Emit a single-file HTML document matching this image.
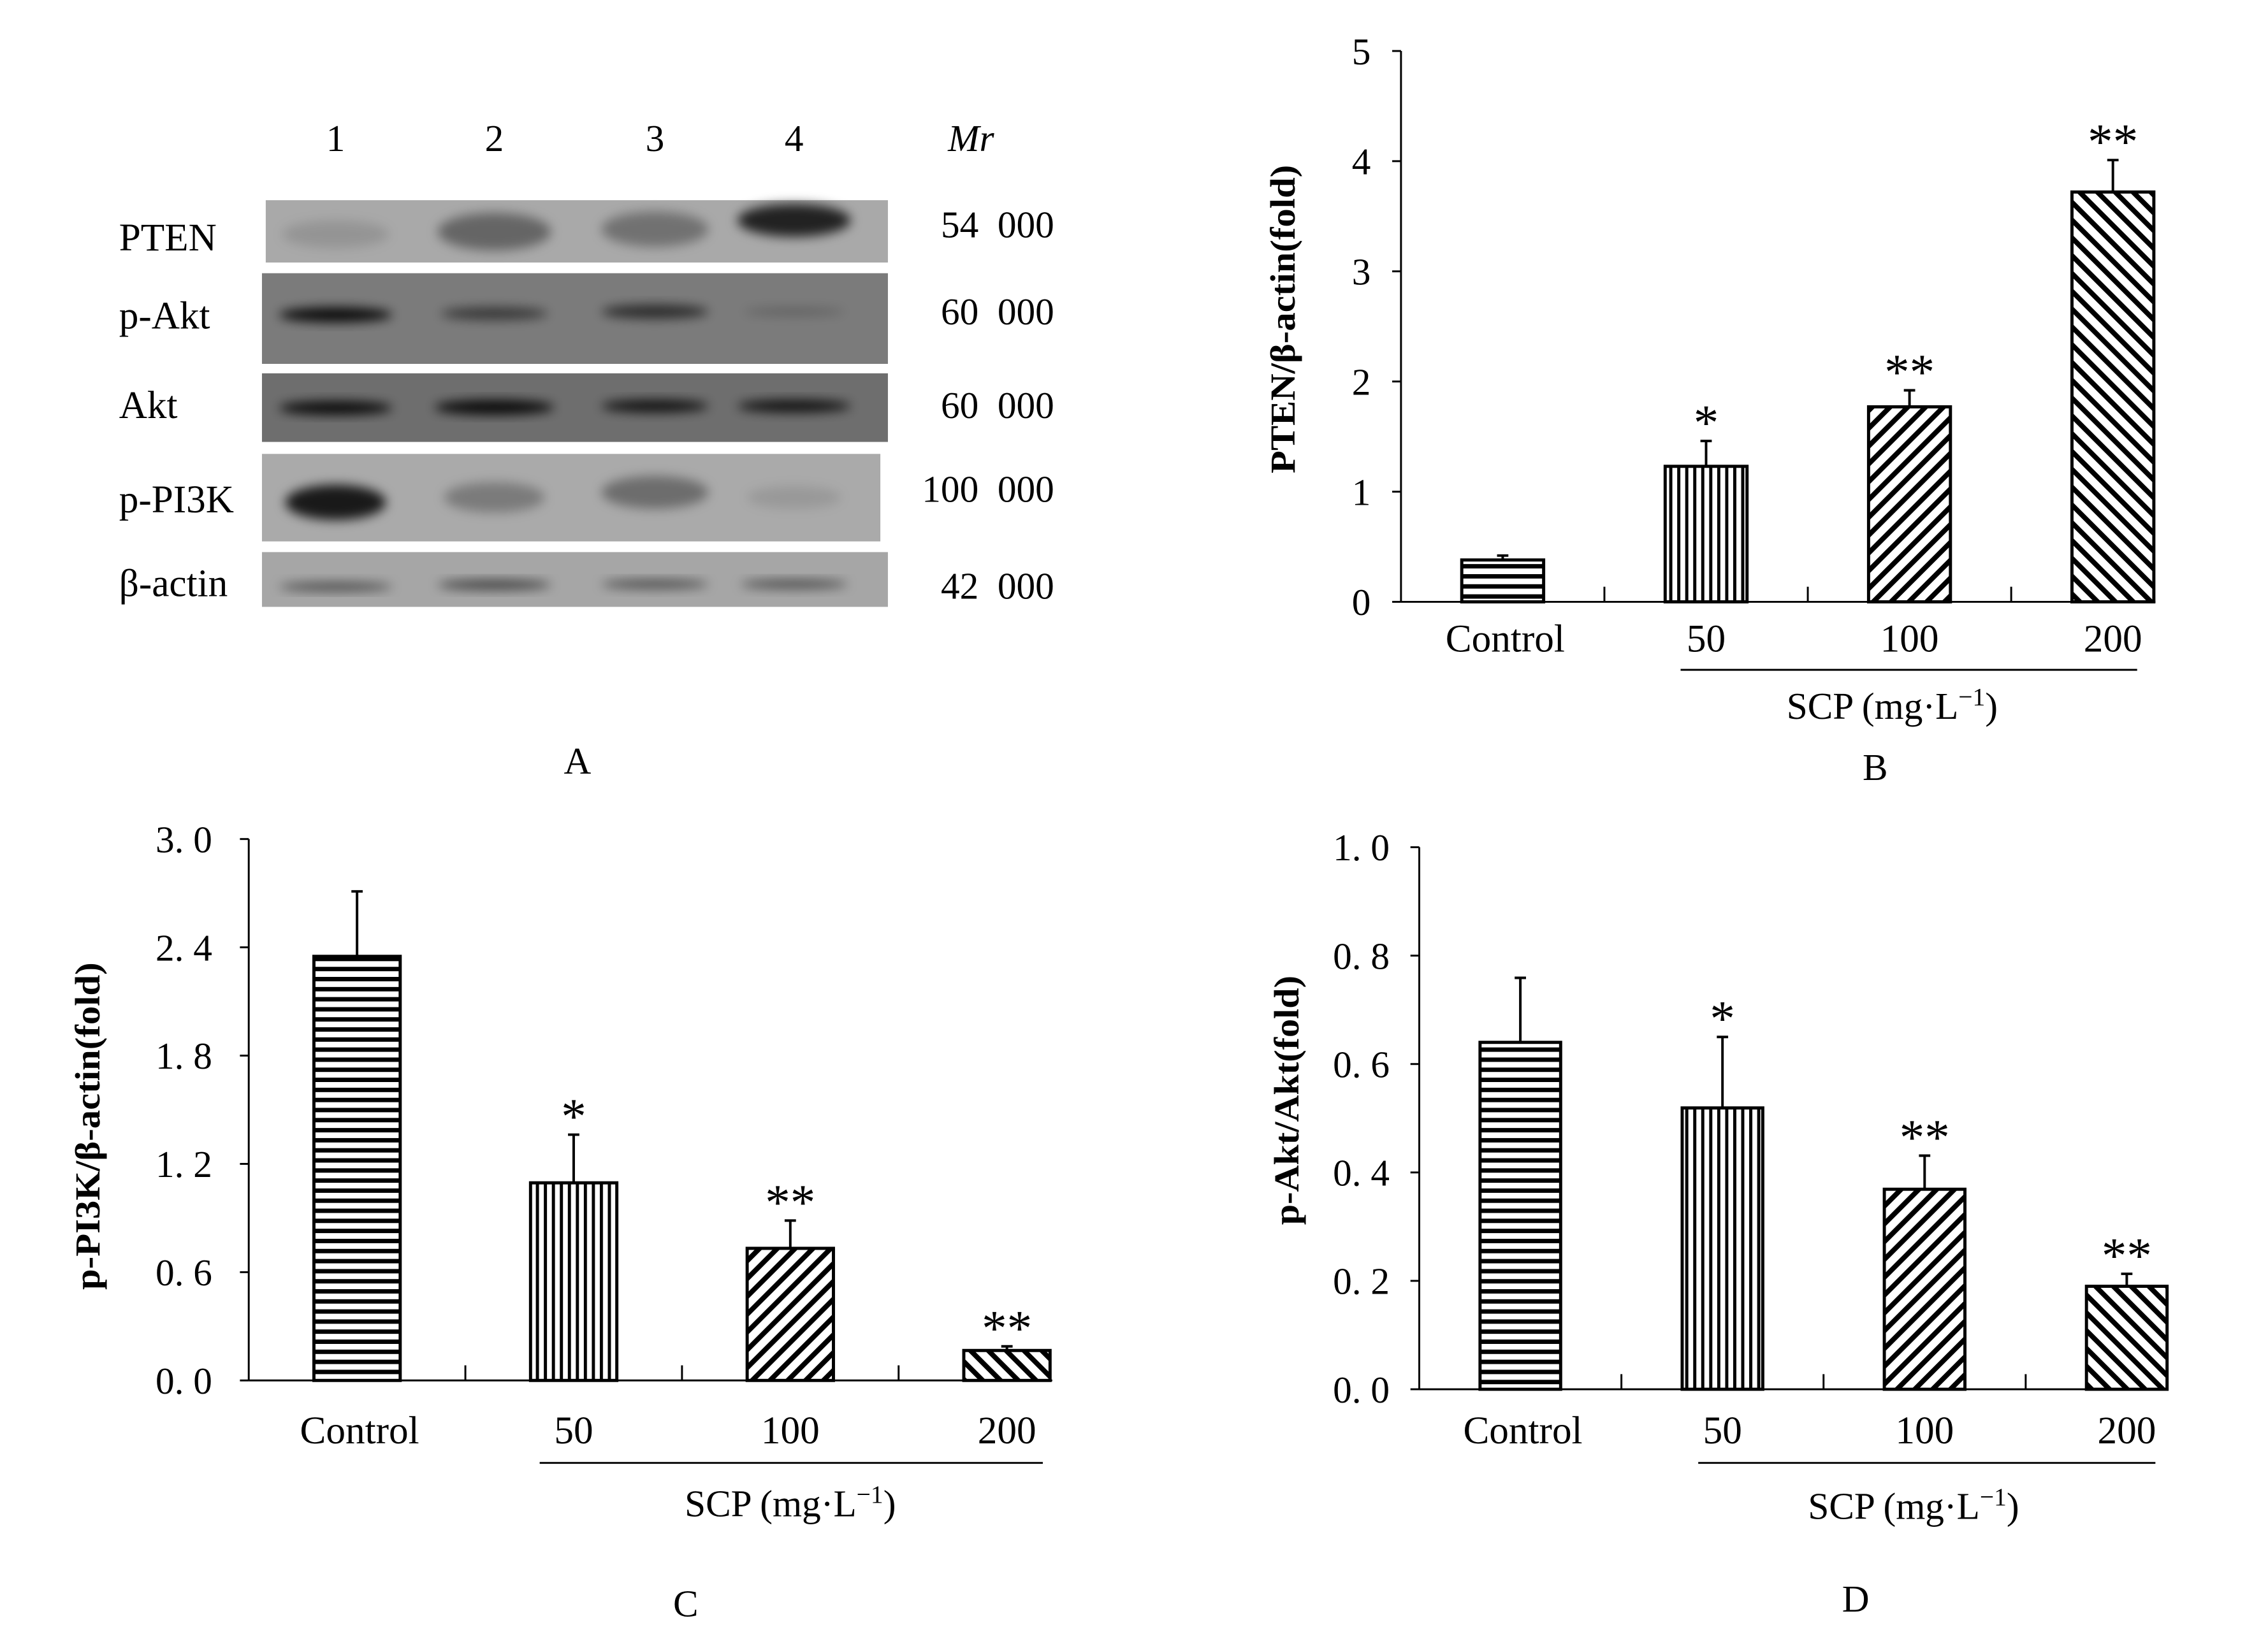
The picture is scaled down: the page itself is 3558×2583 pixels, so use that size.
<!DOCTYPE html>
<html><head><meta charset="utf-8"><style>
html,body{margin:0;padding:0;background:#fff;}
svg{display:block;}
text{font-family:"Liberation Serif","Noto Serif CJK SC",serif;fill:#000;}
</style></head><body>
<svg id="fig" width="3558" height="2583" viewBox="0 0 3558 2583" xmlns="http://www.w3.org/2000/svg">
<defs>
<pattern id="pH" patternUnits="userSpaceOnUse" width="16" height="16"><rect width="16" height="16" fill="#fff"/><rect y="0" width="16" height="7" fill="#000"/></pattern>
<pattern id="pV" patternUnits="userSpaceOnUse" width="12.7" height="12.7"><rect width="12.7" height="12.7" fill="#fff"/><rect x="0" width="5" height="12.7" fill="#000"/></pattern>
<pattern id="pF" patternUnits="userSpaceOnUse" width="20" height="20" patternTransform="rotate(45)"><rect width="20" height="20" fill="#fff"/><rect x="0" width="8" height="20" fill="#000"/></pattern>
<pattern id="pB" patternUnits="userSpaceOnUse" width="20" height="20" patternTransform="rotate(-45)"><rect width="20" height="20" fill="#fff"/><rect x="0" width="8" height="20" fill="#000"/></pattern>
<filter id="blur" x="-20%" y="-50%" width="140%" height="200%"><feGaussianBlur stdDeviation="9"/></filter>
</defs>

<!-- Panel A: western blot -->
<g transform="scale(0.9879)">
  <text x="533" y="240" font-size="60" text-anchor="middle">1</text>
  <text x="785" y="240" font-size="60" text-anchor="middle">2</text>
  <text x="1040" y="240" font-size="60" text-anchor="middle">3</text>
  <text x="1261" y="240" font-size="60" text-anchor="middle">4</text>
  <text x="1542" y="240" font-size="60" font-style="italic" text-anchor="middle">Mr</text>

  <rect x="422" y="318" width="988" height="99" fill="#a9a9a9"/>
  <g filter="url(#blur)" fill="#000">
    <ellipse cx="533" cy="372" rx="85" ry="22" opacity="0.12"/>
    <ellipse cx="785" cy="368" rx="90" ry="30" opacity="0.4"/>
    <ellipse cx="1040" cy="364" rx="85" ry="28" opacity="0.33"/>
    <ellipse cx="1261" cy="350" rx="90" ry="26" opacity="0.8"/>
  </g>
  <rect x="416" y="434" width="994" height="144" fill="#7b7b7b"/>
  <g filter="url(#blur)" fill="#000">
    <ellipse cx="533" cy="500" rx="90" ry="12" opacity="0.9"/>
    <ellipse cx="785" cy="498" rx="85" ry="10" opacity="0.55"/>
    <ellipse cx="1040" cy="495" rx="85" ry="11" opacity="0.65"/>
    <ellipse cx="1261" cy="495" rx="80" ry="6" opacity="0.22"/>
  </g>
  <rect x="416" y="593" width="994" height="109" fill="#6e6e6e"/>
  <g filter="url(#blur)" fill="#000">
    <ellipse cx="533" cy="648" rx="90" ry="11" opacity="0.9"/>
    <ellipse cx="785" cy="647" rx="95" ry="12" opacity="0.9"/>
    <ellipse cx="1040" cy="645" rx="85" ry="10" opacity="0.85"/>
    <ellipse cx="1261" cy="645" rx="90" ry="10" opacity="0.85"/>
  </g>
  <rect x="416" y="721" width="982" height="139" fill="#aaaaaa"/>
  <g filter="url(#blur)" fill="#000">
    <ellipse cx="533" cy="798" rx="80" ry="28" opacity="0.85"/>
    <ellipse cx="785" cy="790" rx="80" ry="24" opacity="0.28"/>
    <ellipse cx="1040" cy="782" rx="85" ry="26" opacity="0.36"/>
    <ellipse cx="1261" cy="790" rx="75" ry="18" opacity="0.1"/>
  </g>
  <rect x="416" y="877" width="994" height="87" fill="#a6a6a6"/>
  <g filter="url(#blur)" fill="#000">
    <ellipse cx="533" cy="932" rx="90" ry="7" opacity="0.55"/>
    <ellipse cx="785" cy="929" rx="90" ry="8" opacity="0.6"/>
    <ellipse cx="1040" cy="928" rx="85" ry="7" opacity="0.55"/>
    <ellipse cx="1261" cy="928" rx="85" ry="7" opacity="0.55"/>
  </g>

  <text x="189" y="398" font-size="62">PTEN</text>
  <text x="189" y="522" font-size="62">p-Akt</text>
  <text x="189" y="664" font-size="62">Akt</text>
  <text x="189" y="814" font-size="62">p-PI3K</text>
  <text x="189" y="947" font-size="62">β-actin</text>

  <text x="1674" y="377" font-size="60" text-anchor="end" xml:space="preserve">54  000</text>
  <text x="1674" y="515" font-size="60" text-anchor="end" xml:space="preserve">60  000</text>
  <text x="1674" y="664" font-size="60" text-anchor="end" xml:space="preserve">60  000</text>
  <text x="1674" y="797" font-size="60" text-anchor="end" xml:space="preserve">100  000</text>
  <text x="1674" y="951" font-size="60" text-anchor="end" xml:space="preserve">42  000</text>
  <text x="917" y="1229" font-size="60" text-anchor="middle">A</text>
</g>

<g id="charts"></g>
</svg>
<script>
// ---- shared categories ----
const categories = ["Control", "50", "100", "200"];
const fills = ["url(#pH)", "url(#pV)", "url(#pF)", "url(#pB)"];

// ---- Panel B: PTEN/β-actin ----
const bValues = [0.38, 1.23, 1.77, 3.72];
const bErrTop = [0.42, 1.46, 1.92, 4.01];
const bStars = ["", "*", "**", "**"];
const bTicks = [0, 1, 2, 3, 4, 5];
const bTickLabels = ["0", "1", "2", "3", "4", "5"];

// ---- Panel C: p-PI3K/β-actin ----
const cValues = [2.35, 1.095, 0.732, 0.166];
const cErrTop = [2.71, 1.362, 0.886, 0.189];
const cStars = ["", "*", "**", "**"];
const cTicks = [0, 0.6, 1.2, 1.8, 2.4, 3.0];
const cTickLabels = ["0. 0", "0. 6", "1. 2", "1. 8", "2. 4", "3. 0"];

// ---- Panel D: p-Akt/Akt ----
const dValues = [0.64, 0.519, 0.369, 0.19];
const dErrTop = [0.759, 0.65, 0.431, 0.213];
const dStars = ["", "*", "**", "**"];
const dTicks = [0, 0.2, 0.4, 0.6, 0.8, 1.0];
const dTickLabels = ["0. 0", "0. 2", "0. 4", "0. 6", "0. 8", "1. 0"];

const NS = "http://www.w3.org/2000/svg";
const root = document.getElementById("charts");
function mk(tag, attrs, parent) {
  const e = document.createElementNS(NS, tag);
  for (const k in attrs) e.setAttribute(k, attrs[k]);
  (parent || root).appendChild(e);
  return e;
}
function txt(s, attrs, parent) { const t = mk("text", attrs, parent); t.textContent = s; return t; }

const K = 0.9879;
function chart(cfg) {
  const ox = cfg.ox, oy = cfg.oy;
  const g = mk("g", {transform: `translate(${ox},${oy}) scale(${K}) translate(${-ox},${-oy})`});
  
  
  const yScale = v => cfg.y0 - (v - cfg.min) / (cfg.max - cfg.min) * (cfg.y0 - cfg.yTop);
  const xCenter = i => cfg.x0 + cfg.cw * (i + 0.5);
  const yAxis = mk("line", {x1: cfg.x0, y1: yScale(cfg.max), x2: cfg.x0, y2: cfg.y0, stroke: "#000", "stroke-width": 3}, g);
  
  
  const xAxis = mk("line", {x1: cfg.x0, y1: cfg.y0, x2: cfg.xEnd, y2: cfg.y0, stroke: "#000", "stroke-width": 3}, g);
  
  
  cfg.ticks.forEach((t, i) => {
    const y = yScale(t);
    const tk = mk("line", {x1: cfg.x0 - 14, y1: y, x2: cfg.x0, y2: y, stroke: "#000", "stroke-width": 3}, g);
    
    
    const lb = txt(cfg.tickLabels[i], {x: cfg.tickX, y: y + 21, "font-size": 60, "text-anchor": "middle"}, g);
    
    
  });
  for (let i = 1; i < categories.length; i++) {
    const x = cfg.x0 + cfg.cw * i;
    const tk = mk("line", {x1: x, y1: cfg.y0, x2: x, y2: cfg.y0 - 24, stroke: "#000", "stroke-width": 3}, g);
    
    
  }
  categories.forEach((c, i) => {
    const cx = xCenter(i);
    const top = yScale(cfg.values[i]);
    const bar = mk("rect", {x: cx - cfg.bw / 2, y: top, width: cfg.bw, height: cfg.y0 - top, fill: fills[i], stroke: "#000", "stroke-width": 5}, g);
    
    
    const et = yScale(cfg.err[i]);
    const eb = mk("line", {x1: cx, y1: top, x2: cx, y2: et, stroke: "#000", "stroke-width": 4}, g);
    
    
    const cap = mk("line", {x1: cx - 9, y1: et, x2: cx + 9, y2: et, stroke: "#000", "stroke-width": 4}, g);
    
    
    if (cfg.stars[i]) {
      const st = txt(cfg.stars[i], {x: cx, y: et - 2, "font-size": 80, "text-anchor": "middle"}, g);
      
      
    }
    const cl = txt(c, {x: cx + (i === 0 ? 4 : 0), y: cfg.catY, "font-size": 62, "text-anchor": "middle"}, g);
    
    
  });
  const gl = mk("line", {x1: cfg.lineX1, y1: cfg.lineY, x2: cfg.lineX2, y2: cfg.lineY, stroke: "#000", "stroke-width": 3}, g);
  
  
  const scp = mk("text", {x: cfg.scpX, y: cfg.scpY + 20, "font-size": 60, "text-anchor": "middle"}, g);
  
  
  scp.innerHTML = 'SCP (mg·L<tspan dy="-22" font-size="40">−1</tspan><tspan dy="22">)</tspan>';
  const yl = txt(cfg.ylabel, {x: 0, y: 0, "font-size": 56, "font-weight": "bold", "text-anchor": "middle", textLength: cfg.ylLen, lengthAdjust: "spacingAndGlyphs", transform: `translate(${cfg.ylX + 20},${cfg.ylY}) rotate(-90)`}, g);
  
  
  const pl = txt(cfg.panel, {x: cfg.panelX, y: cfg.panelY + 21, "font-size": 60, "text-anchor": "middle"}, g);
  
  
}

chart({name: "panel-b-pten-chart", ox: 1779, oy: 0, x0: 2203, xEnd: 3401, cw: 323, bw: 130, y0: 956, yTop: 81, min: 0, max: 5,
  values: bValues, err: bErrTop, stars: bStars, ticks: bTicks, tickLabels: bTickLabels, tickX: 2140,
  catY: 1035, lineX1: 2647, lineX2: 3372, lineY: 1064, scpX: 2983, scpY: 1122,
  ylabel: "PTEN/β-actin(fold)", ylX: 2014, ylY: 507, ylLen: 490, panel: "B", panelX: 2956, panelY: 1218});

chart({name: "panel-c-p-pi3k-chart", ox: 0, oy: 1290, x0: 395, xEnd: 1671, cw: 344, bw: 137, y0: 2177, yTop: 1317, min: 0, max: 3,
  values: cValues, err: cErrTop, stars: cStars, ticks: cTicks, tickLabels: cTickLabels, tickX: 292,
  catY: 2277, lineX1: 857, lineX2: 1656, lineY: 2308, scpX: 1255, scpY: 2373,
  ylabel: "p-PI3K/β-actin(fold)", ylX: 138, ylY: 1773, ylLen: 520, panel: "C", panelX: 1089, panelY: 2531});

chart({name: "panel-d-p-akt-chart", ox: 1779, oy: 1290, x0: 2232, xEnd: 3418, cw: 321, bw: 128, y0: 2191, yTop: 1330, min: 0, max: 1,
  values: dValues, err: dErrTop, stars: dStars, ticks: dTicks, tickLabels: dTickLabels, tickX: 2140,
  catY: 2277, lineX1: 2675, lineX2: 3401, lineY: 2308, scpX: 3017, scpY: 2377,
  ylabel: "p-Akt/Akt(fold)", ylX: 2020, ylY: 1732, ylLen: 396, panel: "D", panelX: 2925, panelY: 2523});
</script>
</body></html>
